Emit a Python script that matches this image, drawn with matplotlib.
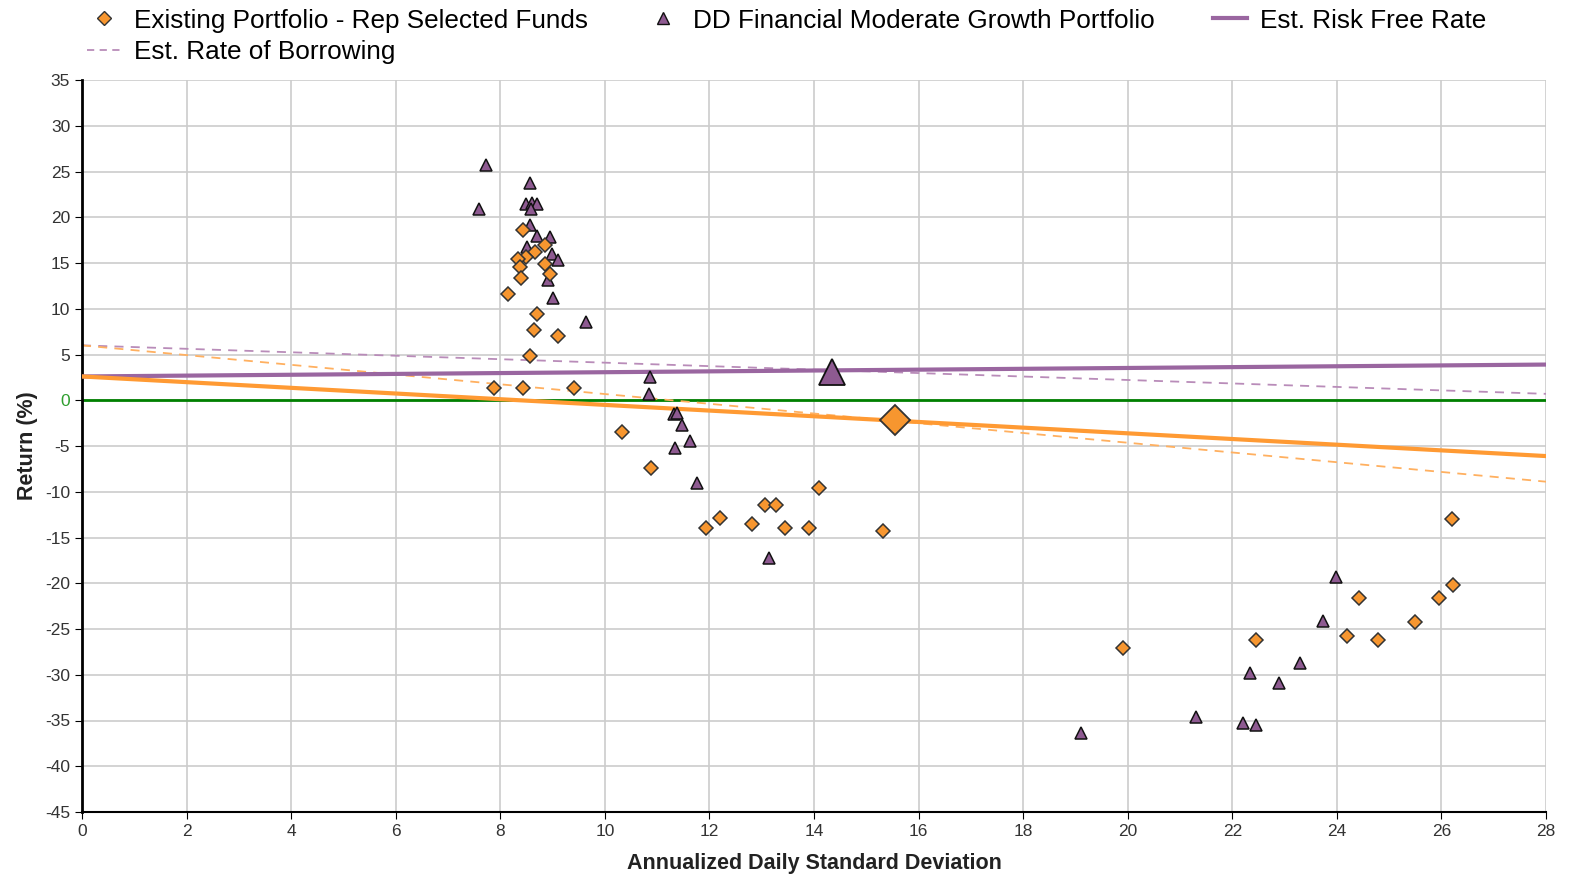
import matplotlib.pyplot as plt
from matplotlib.lines import Line2D

plt.rcParams['font.family'] = ['Liberation Sans', 'DejaVu Sans']
plt.rcParams['axes.unicode_minus'] = False

# Existing Portfolio - Rep Selected Funds (std dev, return)
existing_x = [8.44, 8.85, 8.66, 8.49, 8.34, 8.38, 8.85, 8.95, 8.39, 8.15, 8.71, 8.64, 9.11,
              8.57, 7.88, 8.44, 9.41, 10.32, 10.88, 11.93, 12.21, 12.81, 13.07, 13.27, 13.44,
              13.90, 14.10, 15.32, 19.91, 22.46, 24.20, 24.43, 24.79, 25.50, 25.96, 26.22, 26.20]
existing_y = [18.6, 17.0, 16.2, 15.7, 15.4, 14.6, 14.9, 13.8, 13.4, 11.6, 9.4, 7.65, 7.07,
              4.85, 1.39, 1.31, 1.31, -3.46, -7.43, -14.0, -12.9, -13.55, -11.4, -11.4, -14.0,
              -14.0, -9.6, -14.3, -27.1, -26.2, -25.8, -21.6, -26.2, -24.2, -21.6, -20.2, -13.0]

# DD Financial Moderate Growth Portfolio
dd_x = [7.73, 7.60, 8.57, 8.50, 8.60, 8.71, 8.59, 8.57, 8.71, 8.95, 8.52, 8.98, 9.11, 8.92,
        9.00, 9.64, 10.86, 10.84, 11.32, 11.38, 11.47, 11.63, 11.35, 11.76, 13.14, 19.10,
        21.30, 22.21, 22.45, 22.34, 22.90, 23.29, 23.74, 23.98]
dd_y = [25.7, 20.9, 23.7, 21.5, 21.6, 21.4, 20.9, 19.2, 18.0, 17.8, 16.7, 16.0, 15.3, 13.1,
        11.2, 8.56, 2.55, 0.66, -1.46, -1.38, -2.73, -4.44, -5.17, -9.0, -17.2, -36.4,
        -34.6, -35.3, -35.5, -29.8, -30.9, -28.7, -24.1, -19.3]

# overall portfolios (big markers)
existing_port = (15.55, -2.2)
dd_port = (14.34, 3.1)

# risk free / borrowing lines, end points at x = 0 and 28
line_x = [0, 28]
rf_existing = [2.6, -6.1]
rf_dd = [2.6, 3.9]
borrow_existing = [6.0, -8.9]
borrow_dd = [6.0, 0.7]

orange = '#F7962F'
purple = '#8E5A91'
edge = '#333333'

fig = plt.figure(figsize=(15.7, 8.75), dpi=100)
ax = fig.add_axes([82 / 1570, 1 - 812 / 875, (1546 - 82) / 1570, (812 - 80) / 875])

ax.axhline(0, color='#008000', lw=2, zorder=2)
ax.plot(line_x, borrow_dd, color='#B98CB9', lw=1.3, ls=(0, (5, 4)), zorder=2)
ax.plot(line_x, borrow_existing, color='#FFB060', lw=1.3, ls=(0, (5, 4)), zorder=2)
ax.plot(line_x, rf_dd, color='#9A66A0', lw=3, zorder=3)
ax.plot(line_x, rf_existing, color='#FF9A33', lw=3, zorder=3)

ax.plot(dd_x, dd_y, ls='none', marker='^', ms=9, mfc=purple, mec='#111111', mew=1.1, zorder=4)
ax.plot(existing_x, existing_y, ls='none', marker='D', ms=7.5, mfc=orange, mec=edge, mew=1.1, zorder=5)
ax.plot(*dd_port, ls='none', marker='^', ms=19, mfc=purple, mec='#111111', mew=1.3, zorder=6)
ax.plot(*existing_port, ls='none', marker='D', ms=15, mfc=orange, mec=edge, mew=1.3, zorder=6)

ax.set_xlim(0, 28)
ax.set_ylim(-45, 35)
ax.set_xticks(range(0, 29, 2))
ax.set_yticks(range(-45, 36, 5))
ax.grid(True, color='#CCCCCC', lw=1.2)
ax.set_axisbelow(True)
for s in ['top', 'right']:
    ax.spines[s].set_visible(False)
ax.spines['left'].set_linewidth(2)
ax.spines['bottom'].set_linewidth(1.5)
ax.tick_params(labelsize=12.5, length=5, color='black', labelcolor='#333333')
for lbl in ax.get_yticklabels():
    if lbl.get_text() == '0':
        lbl.set_color('#2E9E2E')

ax.set_xlabel('Annualized Daily Standard Deviation', fontsize=15.5, fontweight='bold', color='#222222', labelpad=10)
ax.set_ylabel('Return (%)', fontsize=15.5, fontweight='bold', color='#222222', labelpad=5)

handles = [
    Line2D([], [], ls='none', marker='D', ms=7, mfc=orange, mec=edge, mew=1),
    Line2D([], [], color='#B98CB9', lw=1.3, ls=(0, (4, 3))),
    Line2D([], [], ls='none', marker='^', ms=8, mfc=purple, mec='#111111', mew=1),
    Line2D([], [], color='#9A66A0', lw=3),
]
labels = ['Existing Portfolio - Rep Selected Funds', 'Est. Rate of Borrowing',
          'DD Financial Moderate Growth Portfolio', 'Est. Risk Free Rate']
fig.legend(handles, labels, ncol=3, loc='upper left', bbox_to_anchor=(0.0405, 1.017),
           frameon=False, fontsize=18.8, handlelength=1.28, handletextpad=0.5,
           columnspacing=2.25, labelspacing=0.3)

fig.savefig('out.png', dpi=100)
